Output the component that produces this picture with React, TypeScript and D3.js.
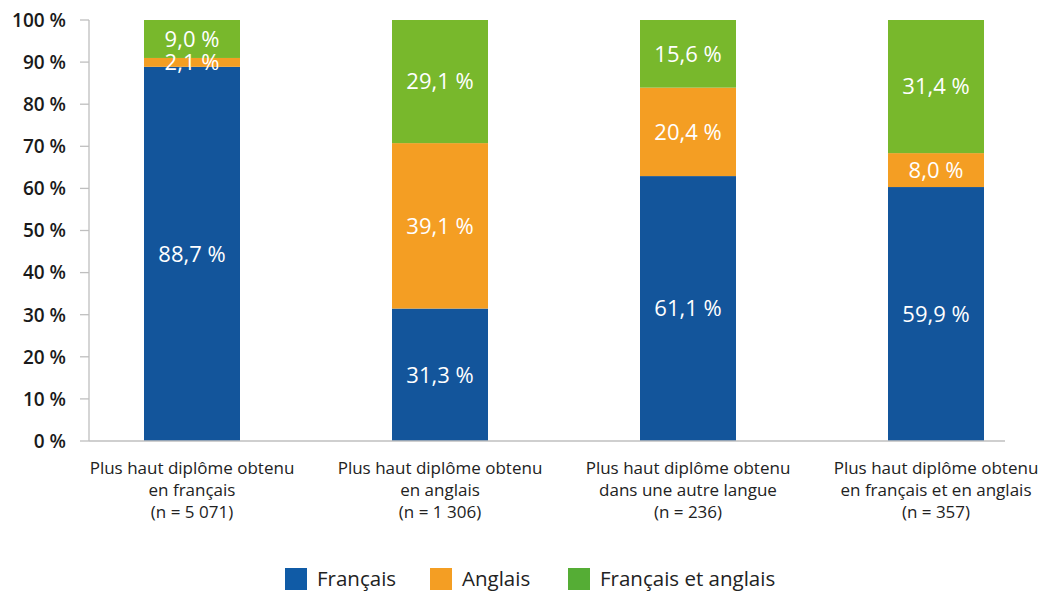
import React from 'react'
import * as d3 from 'd3'

const categories = [
  ['Plus haut diplôme obtenu', 'en français', '(n = 5 071)'],
  ['Plus haut diplôme obtenu', 'en anglais', '(n = 1 306)'],
  ['Plus haut diplôme obtenu', 'dans une autre langue', '(n = 236)'],
  ['Plus haut diplôme obtenu', 'en français et en anglais', '(n = 357)'],
]
const francais = [88.7, 31.3, 61.1, 59.9]
const anglais = [2.1, 39.1, 20.4, 8.0]
const lesDeux = [9.0, 29.1, 15.6, 31.4]
const yTicks = [0, 10, 20, 30, 40, 50, 60, 70, 80, 90, 100]

const series = [
  { key: 'fr', name: 'Français', values: francais, color: '#13559b', legend: '#105ba6' },
  { key: 'en', name: 'Anglais', values: anglais, color: '#f49e23', legend: '#f49e23' },
  { key: 'both', name: 'Français et anglais', values: lesDeux, color: '#78b82c', legend: '#55ad35' },
]

const FONT = '"Open Sans", Lato, sans-serif'

export default function App() {
  const width = 1039
  const height = 592
  const left = 89
  const right = 1005
  const bottom = 441
  const top = 20
  const barW = 96

  const rows = categories.map((c, i) => {
    const r: any = { i }
    series.forEach(s => (r[s.key] = s.values[i]))
    return r
  })
  // bars fill to 100 %
  const stacked = d3
    .stack()
    .keys(series.map(s => s.key))
    .offset(d3.stackOffsetExpand)(rows)

  const x = d3
    .scalePoint<number>()
    .domain(categories.map((_, i) => i))
    .range([192, 936])
  const y = d3.scaleLinear().domain([0, 1]).range([bottom, top])

  const fmt = (v: number) => v.toFixed(1).replace('.', ',') + ' %'

  const legendX = d3
    .scaleOrdinal<string, number>()
    .domain(series.map(s => s.key))
    .range([285, 430, 568])

  return (
    <svg width={width} height={height} style={{ position: 'absolute', left: 0, top: 0 }} fontFamily={FONT}>
      <rect width={width} height={height} fill="#fff" />
      {/* y axis */}
      <line x1={left} x2={left} y1={top} y2={bottom} stroke="#bfbfbf" strokeWidth={1.3} />
      {yTicks.map(t => (
        <g key={t} transform={`translate(0,${y(t / 100)})`}>
          <line x1={80} x2={left} stroke="#bfbfbf" strokeWidth={1.3} />
          <text x={66} dy="0.36em" textAnchor="end" fontSize={19} fontWeight={600} fill="#1a1a1a">
            {t} %
          </text>
        </g>
      ))}
      {/* bars */}
      {stacked.map((layer, si) =>
        layer.map((d, i) => (
          <rect
            key={`${si}-${i}`}
            x={x(i)! - barW / 2}
            width={barW}
            y={y(d[1])}
            height={y(d[0]) - y(d[1])}
            fill={series[si].color}
          />
        ))
      )}
      {stacked.map((layer, si) =>
        layer.map((d, i) => (
          <text
            key={`l${si}-${i}`}
            x={x(i)!}
            y={(y(d[0]) + y(d[1])) / 2}
            dy="0.36em"
            textAnchor="middle"
            fontSize={22}
            fill="#fff"
          >
            {fmt(series[si].values[i])}
          </text>
        ))
      )}
      {/* x axis */}
      <line x1={left} x2={right} y1={bottom} y2={bottom} stroke="#bfbfbf" strokeWidth={1.3} />
      {categories.map((lines, i) => (
        <text key={i} x={x(i)!} textAnchor="middle" fontSize={17} fill="#222">
          {lines.map((l, j) => (
            <tspan key={j} x={x(i)!} y={474 + j * 22}>
              {l}
            </tspan>
          ))}
        </text>
      ))}
      {/* legend */}
      {series.map(s => (
        <g key={s.key} transform={`translate(${legendX(s.key)},568)`}>
          <rect width={22} height={22} fill={s.legend} />
          <text x={32} y={11} dy="0.36em" fontSize={20.5} fill="#222">
            {s.name}
          </text>
        </g>
      ))}
    </svg>
  )
}
